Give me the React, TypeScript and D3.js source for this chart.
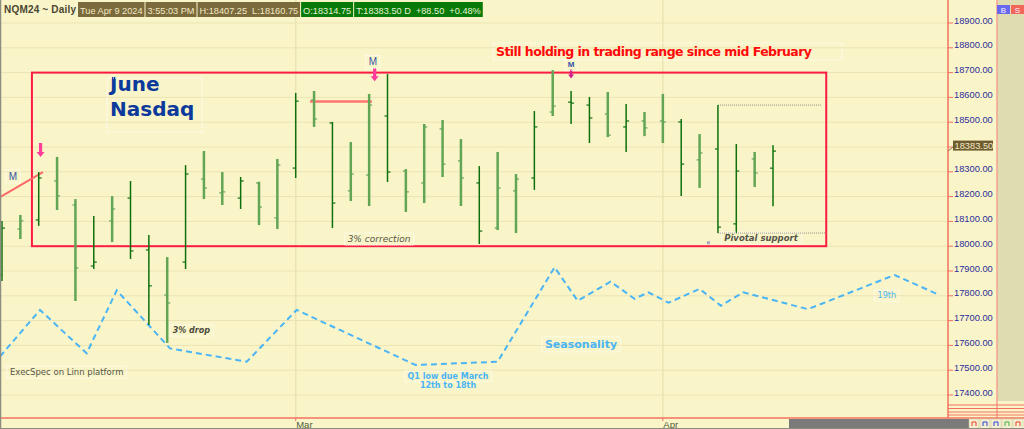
import { useEffect, useRef } from "react";
import * as d3 from "d3";

// NQM24 daily bars, Feb 7 - Apr 9 2024
const DATES = [
  "2024-02-07", "2024-02-08", "2024-02-09", "2024-02-12", "2024-02-13", "2024-02-14", "2024-02-15", "2024-02-16",
  "2024-02-20", "2024-02-21", "2024-02-22", "2024-02-23", "2024-02-26", "2024-02-27", "2024-02-28", "2024-02-29",
  "2024-03-01", "2024-03-04", "2024-03-05", "2024-03-06", "2024-03-07", "2024-03-08", "2024-03-11", "2024-03-12",
  "2024-03-13", "2024-03-14", "2024-03-15", "2024-03-18", "2024-03-19", "2024-03-20", "2024-03-21", "2024-03-22",
  "2024-03-25", "2024-03-26", "2024-03-27", "2024-03-28",
  "2024-04-01", "2024-04-02", "2024-04-03", "2024-04-04", "2024-04-05", "2024-04-08", "2024-04-09",
];
const OPEN = [
  17884, 18069, 18106, 18263, 18166, 17920, 18102, 18194, 17985, 17803, 17936, 18271, 18215, 18194, 18255, 18114,
  18315, 18590, 18497, 18223, 18287, 18525, 18303, 18255, 18473, 18344, 18255, 18073, 18223, 18275, 18541, 18581,
  18569, 18533, 18481, 18505, 18505, 18501, 18348, 18392, 18090, 18352, 18314.75,
];
const HIGH = [
  18102, 18126, 18299, 18360, 18190, 18122, 18202, 18263, 18045, 17956, 18327, 18384, 18299, 18279, 18260, 18352,
  18618, 18626, 18501, 18420, 18614, 18694, 18311, 18493, 18509, 18432, 18323, 18380, 18291, 18545, 18710, 18626,
  18602, 18622, 18573, 18541, 18614, 18513, 18452, 18569, 18412, 18380, 18407.25,
];
const LOW = [
  17860, 18029, 18082, 18146, 17779, 17908, 18017, 17948, 17682, 17610, 17908, 18190, 18166, 18150, 18085, 18069,
  18275, 18481, 18073, 18182, 18162, 18259, 18138, 18174, 18279, 18162, 18009, 18065, 18053, 18227, 18525, 18493,
  18416, 18440, 18380, 18444, 18416, 18202, 18235, 18053, 18053, 18239, 18160.75,
];
const CLOSE = [
  18073, 18102, 18275, 18203, 17912, 17936, 18150, 17981, 17840, 17771, 18291, 18235, 18219, 18263, 18158, 18327,
  18585, 18513, 18174, 18291, 18569, 18299, 18219, 18481, 18331, 18275, 18061, 18235, 18271, 18481, 18565, 18577,
  18517, 18448, 18505, 18477, 18501, 18331, 18376, 18077, 18303, 18295, 18383.5,
];
// bar shade as drawn by the platform (1 = dark, 0 = light)
const SHADE = [
  1, 0, 1, 0, 0, 1, 0, 1, 1, 0, 1, 0, 0, 1, 0, 0,
  1, 0, 1, 0, 0, 1, 0, 0, 0, 0, 1, 0, 0, 1, 0, 1,
  1, 0, 1, 0, 0, 1, 0, 1, 1, 0, 1,
];

// seasonality projection (position in bar units, value in price units)
const SEASON_POS = [-0.11, 2.07, 4.61, 6.25, 9.15, 13.33, 16.05, 22.53, 27.0, 30.1, 31.36, 33.15, 34.46, 35.21, 36.31, 38.0, 39.16, 40.37, 43.9, 48.62, 51.07];
const SEASON_VAL = [17555, 17743, 17568, 17822, 17588, 17534, 17743, 17521, 17534, 17915, 17780, 17857, 17788, 17814, 17772, 17828, 17760, 17814, 17746, 17884, 17803];

// "M" marks: bar position, price of the arrow top, price of the label
const MARKS = [
  { pos: 2.1, arrowTop: 18416, len: 14, label: 18283, labelPos: 0.6, small: false },
  { pos: 20.3, arrowTop: 18718, len: 13, label: 18745, labelPos: 20.2, small: false },
  { pos: 31, arrowTop: 18712, len: 9, label: 18733, labelPos: 31, small: true },
];

const PRICE_TICKS = d3.range(17400, 18901, 100);
const MONTHS = [
  { label: "Mar", date: "2024-03-01" },
  { label: "Apr", date: "2024-04-01" },
];

const HEADER_TITLE = "NQM24 ~ Daily";
const HEADER_ITEMS = [
  { text: "Tue Apr 9 2024", kind: "info" },
  { text: "3:55:03 PM", kind: "info" },
  { text: "H:18407.25  L:18160.75", kind: "info" },
  { text: "O:18314.75", kind: "up" },
  { text: "T:18383.50 D  +88.50  +0.48%", kind: "up" },
];

const W = 1024;
const H = 429;
const PLOT_RIGHT = 948;
const BOTTOM = 418;
const BG = "#faf5c9";
const GRID = "#ebe3b2";
const AXIS_RED = "#f2705f";
const BOX_RED = "#fa1c42";
const PINK = "#ff3c9c";
const SEASON_BLUE = "#4ab4f4";
const FONT = "'Liberation Sans', Arial, sans-serif";
const FONT_WIDE = "'DejaVu Sans', Verdana, sans-serif";

export default function App() {
  const svgRef = useRef<SVGSVGElement>(null);

  useEffect(() => {
    const svg = d3.select(svgRef.current);
    svg.selectAll("*").remove();

    const x = d3.scaleLinear().domain([0, DATES.length - 1]).range([2, 773]);
    const y = d3.scaleLinear().domain([17400, 18900]).range([395, 23]);
    const idxOf = (date: string) => DATES.indexOf(date);

    svg.append("rect").attr("width", W).attr("height", H).attr("fill", BG);

    // horizontal grid
    svg
      .append("g")
      .selectAll("line")
      .data(PRICE_TICKS)
      .enter()
      .append("line")
      .attr("x1", 0)
      .attr("x2", PLOT_RIGHT)
      .attr("y1", (d) => y(d))
      .attr("y2", (d) => y(d))
      .attr("stroke", GRID)
      .attr("stroke-width", 1);

    // month separators
    svg
      .append("g")
      .selectAll("line")
      .data(MONTHS)
      .enter()
      .append("line")
      .attr("x1", (d) => x(idxOf(d.date)))
      .attr("x2", (d) => x(idxOf(d.date)))
      .attr("y1", 0)
      .attr("y2", BOTTOM)
      .attr("stroke", GRID)
      .attr("stroke-width", 1.5);

    // seasonality
    const season = d3
      .line<number>()
      .x((_, i) => x(SEASON_POS[i]))
      .y((d) => y(d));
    svg
      .append("path")
      .datum(SEASON_VAL)
      .attr("fill", "none")
      .attr("stroke", SEASON_BLUE)
      .attr("stroke-width", 2)
      .attr("stroke-dasharray", "6,4")
      .attr("d", season);

    // trading range box
    svg
      .append("rect")
      .attr("x", x(1.63))
      .attr("y", y(18700))
      .attr("width", x(44.9) - x(1.63))
      .attr("height", y(18000) - y(18700))
      .attr("fill", "none")
      .attr("stroke", BOX_RED)
      .attr("stroke-width", 2);

    // pivotal support / resistance dotted lines
    [
      { v: HIGH[39], to: 44.66 },
      { v: LOW[39], to: 44.9 },
    ].forEach((l) => {
      svg
        .append("line")
        .attr("x1", x(39))
        .attr("x2", x(l.to))
        .attr("y1", y(l.v))
        .attr("y2", y(l.v))
        .attr("stroke", "#8c8c80")
        .attr("stroke-width", 1)
        .attr("stroke-dasharray", "1,1");
    });

    // trend line and mid-range line
    svg
      .append("line")
      .attr("x1", x(-0.11))
      .attr("y1", y(18198))
      .attr("x2", x(2.23))
      .attr("y2", y(18299))
      .attr("stroke", "#ff6868")
      .attr("stroke-width", 2);
    svg
      .append("line")
      .attr("x1", x(16.78))
      .attr("x2", x(20.15))
      .attr("y1", y(18583))
      .attr("y2", y(18583))
      .attr("stroke", "#ff7470")
      .attr("stroke-width", 2.5);

    // OHLC bars
    const bars = svg
      .append("g")
      .selectAll("g")
      .data(DATES.map((d, i) => ({ d, i })))
      .enter()
      .append("g")
      .attr("stroke", (b) => (SHADE[b.i] ? "#0d700d" : "#62a555"))
      .attr("stroke-width", (b) => (SHADE[b.i] ? 1.5 : 2.5));
    bars
      .append("line")
      .attr("x1", (b) => x(b.i))
      .attr("x2", (b) => x(b.i))
      .attr("y1", (b) => y(HIGH[b.i]))
      .attr("y2", (b) => y(LOW[b.i]));
    bars
      .append("line")
      .attr("x1", (b) => x(b.i) - 3)
      .attr("x2", (b) => x(b.i))
      .attr("y1", (b) => y(OPEN[b.i]))
      .attr("y2", (b) => y(OPEN[b.i]))
      .attr("stroke-width", 1.2);
    bars
      .append("line")
      .attr("x1", (b) => x(b.i))
      .attr("x2", (b) => x(b.i) + 3)
      .attr("y1", (b) => y(CLOSE[b.i]))
      .attr("y2", (b) => y(CLOSE[b.i]))
      .attr("stroke-width", 1.2);

    // helper for annotation text with faint box
    const note = (
      tx: number,
      ty: number,
      text: string,
      opts: { size: number; color: string; weight?: string; style?: string; family?: string; anchor?: string; box?: boolean }
    ) => {
      const t = svg
        .append("text")
        .attr("x", tx)
        .attr("y", ty)
        .attr("fill", opts.color)
        .attr("font-size", opts.size)
        .attr("font-weight", opts.weight ?? "normal")
        .attr("font-style", opts.style ?? "normal")
        .attr("font-family", opts.family ?? FONT)
        .attr("text-anchor", opts.anchor ?? "start")
        .style("white-space", "pre")
        .text(text);
      if (opts.box) {
        const bb = (t.node() as SVGTextElement).getBBox();
        svg
          .insert("rect", () => t.node() as SVGTextElement)
          .attr("x", bb.x - 3)
          .attr("y", bb.y - 1)
          .attr("width", bb.width + 6)
          .attr("height", bb.height + 2)
          .attr("fill", "none")
          .attr("stroke", "#ffffff")
          .attr("stroke-width", 1)
          .attr("stroke-dasharray", "1,1");
      }
      return t;
    };

    // M marks with down arrows
    MARKS.forEach((m) => {
      const ax = x(m.pos);
      const top = y(m.arrowTop);
      const w = m.small ? 3 : 4;
      const color = m.small ? "#d4208c" : PINK;
      svg
        .append("line")
        .attr("x1", ax)
        .attr("x2", ax)
        .attr("y1", top)
        .attr("y2", top + m.len - w)
        .attr("stroke", color)
        .attr("stroke-width", w * 0.8);
      svg
        .append("path")
        .attr("d", `M${ax - w},${top + m.len - w - 1}L${ax + w},${top + m.len - w - 1}L${ax},${top + m.len}Z`)
        .attr("fill", color);
    });
    MARKS.forEach((m) => {
      note(x(m.labelPos), y(m.label) + (m.small ? 3 : 4), "M", {
        size: m.small ? 8 : 10,
        color: "#3352a8",
        anchor: "middle",
        box: true,
        weight: m.small ? "bold" : "normal",
      });
    });

    note(110, y(18625), "June", { size: 20, color: "#0b3a9c", weight: "bold", family: FONT_WIDE });
    note(110, y(18525), "Nasdaq", { size: 20, color: "#0b3a9c", weight: "bold", family: FONT_WIDE, box: false });
    svg
      .append("rect")
      .attr("x", 107)
      .attr("y", 78)
      .attr("width", 95)
      .attr("height", 54)
      .attr("fill", "none")
      .attr("stroke", "#ffffff")
      .attr("stroke-dasharray", "1,1");

    note(496, 56, "Still holding in trading range since mid February", {
      size: 12.5,
      color: "#ff0a0a",
      weight: "bold",
      family: FONT_WIDE,
      box: true,
    }).attr("textLength", 316);

    note(379, y(18000) - 4, "3% correction", { size: 9, color: "#55554a", style: "italic", anchor: "middle", box: true, family: FONT_WIDE });
    note(x(9.3), y(17650), "3% drop", { size: 8, color: "#4a4a40", style: "italic", weight: "bold", box: true, family: FONT_WIDE });
    note(761, y(18000) - 5, "Pivotal support", { size: 8.5, color: "#55554a", style: "italic", weight: "bold", anchor: "middle", box: true, family: FONT_WIDE });
    svg.append("rect").attr("x", x(38.4)).attr("y", y(18020)).attr("width", 3).attr("height", 3).attr("fill", "#a8a8c0");

    note(581, y(17590), "Seasonality", { size: 11, color: SEASON_BLUE, weight: "bold", anchor: "middle", box: true, family: FONT_WIDE });
    note(448, y(17465), "Q1 low due March", { size: 8, color: SEASON_BLUE, weight: "bold", anchor: "middle", family: FONT_WIDE, box: true });
    note(448, y(17430), "12th to 18th", { size: 8, color: SEASON_BLUE, weight: "bold", anchor: "middle", family: FONT_WIDE });
    note(x(48.2), y(17790), "19th", { size: 8, color: SEASON_BLUE, anchor: "middle", family: FONT_WIDE, box: true });
    note(10, y(17480), "ExecSpec on Linn platform", { size: 8.5, color: "#55554a", family: FONT_WIDE, box: true });

    // right price axis
    svg.append("rect").attr("x", 997).attr("y", 0).attr("width", W - 997).attr("height", 401).attr("fill", "#e0dcb2");
    svg.append("line").attr("x1", PLOT_RIGHT).attr("x2", PLOT_RIGHT).attr("y1", 0).attr("y2", BOTTOM).attr("stroke", AXIS_RED).attr("stroke-width", 1.5);
    svg.append("line").attr("x1", 997).attr("x2", 997).attr("y1", 0).attr("y2", H).attr("stroke", "#f4a090").attr("stroke-width", 1.5);
    const axis = svg.append("g").selectAll("g").data(PRICE_TICKS).enter().append("g");
    axis
      .append("line")
      .attr("x1", PLOT_RIGHT)
      .attr("x2", PLOT_RIGHT + 5)
      .attr("y1", (d) => y(d))
      .attr("y2", (d) => y(d))
      .attr("stroke", AXIS_RED);
    axis
      .append("text")
      .attr("x", 954)
      .attr("y", (d) => y(d) + 0.5)
      .attr("fill", "#2c2c9c")
      .attr("font-size", 9.3)
      .attr("font-family", FONT)
      .text((d) => d3.format(".2f")(d));

    // last price tag
    const last = CLOSE[CLOSE.length - 1];
    svg
      .append("line")
      .attr("x1", PLOT_RIGHT)
      .attr("y1", y(last))
      .attr("x2", 953)
      .attr("y2", y(last) - 4)
      .attr("stroke", "#8a7a50");
    svg
      .append("rect")
      .attr("x", 953)
      .attr("y", y(last) - 10.5)
      .attr("width", 40)
      .attr("height", 10)
      .attr("fill", "#6e5c2e");
    svg
      .append("text")
      .attr("x", 954.5)
      .attr("y", y(last) - 2)
      .attr("fill", "#f2e8c6")
      .attr("font-size", 9.3)
      .attr("font-family", FONT)
      .text(d3.format(".2f")(last));

    // B / S buttons
    [
      { t: "B", x0: 997, fill: "#6868ee" },
      { t: "S", x0: 1011, fill: "#f0675a" },
    ].forEach((b) => {
      svg.append("rect").attr("x", b.x0).attr("y", 5).attr("width", 13).attr("height", 9).attr("fill", b.fill);
      svg
        .append("text")
        .attr("x", b.x0 + 6.5)
        .attr("y", 12.5)
        .attr("text-anchor", "middle")
        .attr("fill", "#f4f0ff")
        .attr("font-size", 8)
        .attr("font-family", FONT)
        .text(b.t);
    });

    // lower right rules
    [405, 408.5, 412, 415].forEach((ly) => {
      svg.append("line").attr("x1", PLOT_RIGHT).attr("x2", W).attr("y1", ly).attr("y2", ly).attr("stroke", AXIS_RED).attr("stroke-width", 1);
    });

    // bottom time axis
    svg.append("line").attr("x1", 0).attr("x2", W).attr("y1", BOTTOM).attr("y2", BOTTOM).attr("stroke", AXIS_RED).attr("stroke-width", 1.5);
    const mt = svg.append("g").selectAll("g").data(MONTHS).enter().append("g");
    mt.append("line")
      .attr("x1", (d) => x(idxOf(d.date)))
      .attr("x2", (d) => x(idxOf(d.date)))
      .attr("y1", BOTTOM)
      .attr("y2", BOTTOM + 3)
      .attr("stroke", AXIS_RED);
    mt.append("text")
      .attr("x", (d) => x(idxOf(d.date)) + 0.5)
      .attr("y", 428)
      .attr("fill", "#4d5a3c")
      .attr("font-size", 9.5)
      .attr("font-family", FONT)
      .text((d) => d.label);

    // scrollbar and small buttons
    svg.append("rect").attr("x", 789).attr("y", 419).attr("width", 180).attr("height", 10).attr("fill", "#7a7a7a");
    ["#e8402c", "#3040d8", "#3040d8", "#40b040", "#e8402c"].forEach((c, i) => {
      const bx = 969 + i * 11;
      svg.append("rect").attr("x", bx).attr("y", 419).attr("width", 10).attr("height", 10).attr("fill", "#f4eed0").attr("stroke", "#d0c8a0").attr("stroke-width", 0.5);
      svg
        .append("path")
        .attr("d", `M${bx + 3},${426}L${bx + 3},${422}L${bx + 7},${422}L${bx + 7},${426}`)
        .attr("fill", "none")
        .attr("stroke", c)
        .attr("stroke-width", 1);
    });

    // left frame
    svg.append("line").attr("x1", 0.5).attr("x2", 0.5).attr("y1", 0).attr("y2", H).attr("stroke", "#8c8c80").attr("stroke-width", 1.5);
    svg.append("line").attr("x1", 0).attr("x2", W).attr("y1", H - 0.5).attr("y2", H - 0.5).attr("stroke", "#8c8c80");

    // header strip
    note(4, 13, HEADER_TITLE, { size: 10, color: "#4a4632", weight: "bold" }).attr("textLength", 72);
    let cx = 78;
    HEADER_ITEMS.forEach((item) => {
      const rect = svg.append("rect").attr("x", cx).attr("y", 2).attr("height", 15).attr("fill", item.kind === "up" ? "#077a07" : "#7b6a3c");
      const t = svg
        .append("text")
        .attr("x", cx + 2)
        .attr("y", 13.5)
        .attr("fill", item.kind === "up" ? "#e4f4d6" : "#f3e8c4")
        .attr("font-size", 9.2)
        .attr("font-family", FONT)
        .style("white-space", "pre")
        .text(item.text);
      const w = (t.node() as SVGTextElement).getComputedTextLength();
      rect.attr("width", w + 4);
      cx += w + 5;
    });
  }, []);

  return (
    <div style={{ position: "fixed", left: 0, top: 0, width: W, height: H }}>
      <svg ref={svgRef} width={W} height={H} style={{ display: "block" }} />
    </div>
  );
}
